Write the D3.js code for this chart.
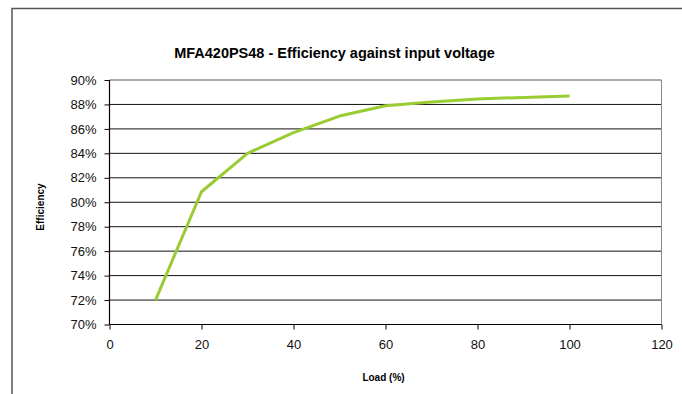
<!DOCTYPE html>
<html><head><meta charset="utf-8">
<script src="https://cdn.jsdelivr.net/npm/d3@7"></script>
<style>body{margin:0;background:#fff}svg{display:block;font-family:"Liberation Sans",Arial,sans-serif}</style>
</head><body><svg id="c" width="682" height="394"></svg>
<script>
const loads = [10, 20, 30, 40, 50, 60, 70, 80, 100];
const efficiency = [72.0, 80.86, 84.0, 85.7, 87.05, 87.9, 88.2, 88.45, 88.7];
const xTicks = [0, 20, 40, 60, 80, 100, 120];
const yTicks = [70, 72, 74, 76, 78, 80, 82, 84, 86, 88, 90];
const title = "MFA420PS48 - Efficiency against input voltage";
const xLabel = "Load (%)";
const yLabel = "Efficiency";

const svg = d3.select("#c");
const L = 109.5, R = 661.5, T = 80, B = 324.5;
const x = d3.scaleLinear().domain([0, 120]).range([L, R]);
const y = d3.scaleLinear().domain([70, 90]).range([B, T]);

// outer frame
svg.append("rect").attr("x", 12).attr("y", 8.5).attr("width", 700).attr("height", 400)
  .attr("fill", "none").attr("stroke", "#555").attr("stroke-width", 1.5);

// gridlines
svg.append("g").selectAll("line").data(yTicks.filter(d => d > 70)).join("line")
  .attr("x1", L).attr("x2", R).attr("y1", d => y(d)).attr("y2", d => y(d))
  .attr("stroke", d => d === 90 ? "#555" : "#111").attr("stroke-width", 1);
// right border of plot
svg.append("line").attr("x1", R).attr("x2", R).attr("y1", T).attr("y2", B)
  .attr("stroke", "#888").attr("stroke-width", 1);

// axes
const yAxis = d3.axisLeft(y).tickValues(yTicks).tickFormat(d => d + "%").tickSize(5).tickPadding(8);
const gy = svg.append("g").attr("transform", `translate(${L},0)`).call(yAxis);
const xAxis = d3.axisBottom(x).tickValues(xTicks).tickFormat(d3.format("d")).tickSize(5).tickPadding(10);
const gx = svg.append("g").attr("transform", `translate(0,${B})`).call(xAxis);
[gy, gx].forEach(g => {
  g.select(".domain").attr("stroke", "#000").attr("stroke-width", 1.2);
  g.selectAll(".tick line").attr("stroke", "#000");
  g.selectAll("text").attr("font-size", 13).attr("fill", "#111")
    .attr("font-family", "Liberation Sans, Arial, sans-serif");
});
gx.select(".domain").attr("d", `M${L},0H${R}`);
gy.select(".domain").attr("d", `M0,${T}V${B}`);

// line
svg.append("path").datum(loads.map((d, i) => [d, efficiency[i]]))
  .attr("fill", "none").attr("stroke", "#99CC33").attr("stroke-width", 3)
  .attr("stroke-linejoin", "round")
  .attr("d", d3.line().x(d => x(d[0])).y(d => y(d[1])));

// title and labels
svg.append("text").attr("x", 334.5).attr("y", 58).attr("text-anchor", "middle")
  .attr("font-size", 14.5).attr("font-weight", "bold").attr("fill", "#000").text(title);
svg.append("text").attr("x", 383.5).attr("y", 380.5).attr("text-anchor", "middle")
  .attr("font-size", 10).attr("font-weight", "bold").attr("fill", "#000").text(xLabel);
svg.append("text").attr("transform", "translate(44,207) rotate(-90)").attr("text-anchor", "middle")
  .attr("font-size", 10).attr("font-weight", "bold").attr("fill", "#000").text(yLabel);
</script></body></html>
